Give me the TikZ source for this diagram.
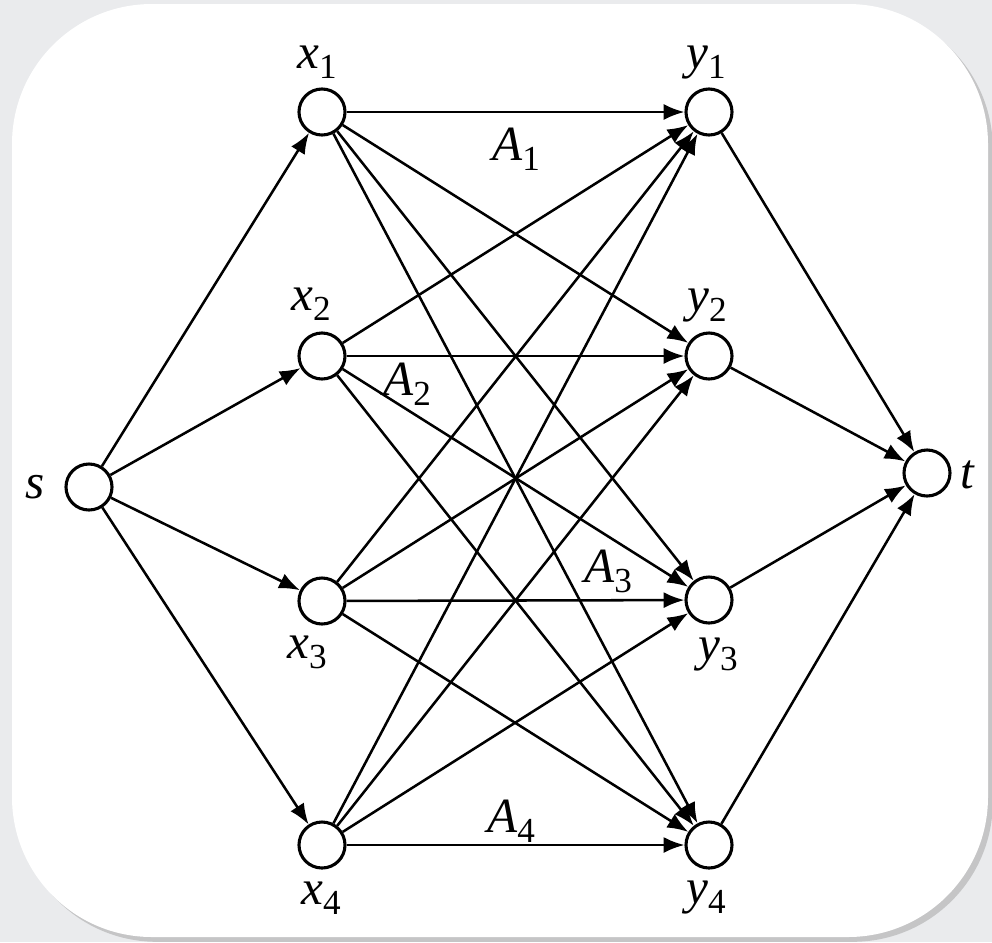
\documentclass[tikz,border=0pt]{standalone}
\usepackage{fontspec}
\setmainfont{Liberation Serif}[ItalicFont={Liberation Serif Italic}]
\usetikzlibrary{arrows.meta, shadows}
\definecolor{pagegray}{RGB}{234,235,237}
\newcommand{\vlab}[2]{\textit{#1}\raisebox{-0.22em}{\fontsize{25}{25}\selectfont #2}}
\tikzstyle{every node}=[font=\fontsize{35}{40}\selectfont]
\tikzstyle{vertex} = [circle, draw=black, line width=2.2pt, fill=white, minimum size=1.15cm, inner sep=0pt]
\tikzstyle{arrow} = [line width=1.8pt, -{Latex[length=0.52cm, width=0.4cm]}]
\tikzstyle{lbl} = [inner sep=0pt, anchor=base]
\tikzstyle{card} = [fill=white, rounded corners=3.5cm, drop shadow={shadow xshift=0.12cm, shadow yshift=-0.12cm, opacity=0.35}]

\begin{document}
\begin{tikzpicture}[x=0.025cm, y=-0.025cm]
            \fill[pagegray] (0,0) rectangle (992,942);
            \useasboundingbox (0,0) rectangle (992,942);
            \path[card] (12,4) rectangle (988,937);

            \node (s) [vertex] at (89,487) {};
            \node (x1) [vertex] at (322,112) {};
            \node (x2) [vertex] at (322,356) {};
            \node (x3) [vertex] at (322,601) {};
            \node (x4) [vertex] at (322,845) {};
            \node (y1) [vertex] at (709,112) {};
            \node (y2) [vertex] at (709,356) {};
            \node (y3) [vertex] at (709,600) {};
            \node (y4) [vertex] at (709,845) {};
            \node (t) [vertex] at (927,473) {};

            \node (ls) [lbl] at (35,498) {\textit{s}};
            \node (lt) [lbl] at (968,488) {\textit{t}};
            \node (lx1) [lbl] at (317,68) {\vlab{x}{1}};
            \node (lx2) [lbl] at (311,310) {\vlab{x}{2}};
            \node (lx3) [lbl] at (307,658) {\vlab{x}{3}};
            \node (lx4) [lbl] at (321,904) {\vlab{x}{4}};
            \node (ly1) [lbl] at (706,68) {\vlab{y}{1}};
            \node (ly2) [lbl] at (707,311) {\vlab{y}{2}};
            \node (ly3) [lbl] at (718,660) {\vlab{y}{3}};
            \node (ly4) [lbl] at (706,903) {\vlab{y}{4}};
            \node (lA1) [lbl] at (516,160) {\vlab{A}{1}};
            \node (lA2) [lbl] at (407,395) {\vlab{A}{2}};
            \node (lA3) [lbl] at (608,582) {\vlab{A}{3}};
            \node (lA4) [lbl] at (511,832) {\vlab{A}{4}};

            \draw [arrow] (s) -- (x1);
            \draw [arrow] (s) -- (x2);
            \draw [arrow] (s) -- (x3);
            \draw [arrow] (s) -- (x4);
            \draw [arrow] (x1) -- (y1);
            \draw [arrow] (x1) -- (y2);
            \draw [arrow] (x1) -- (y3);
            \draw [arrow] (x1) -- (y4);
            \draw [arrow] (x2) -- (y1);
            \draw [arrow] (x2) -- (y2);
            \draw [arrow] (x2) -- (y3);
            \draw [arrow] (x2) -- (y4);
            \draw [arrow] (x3) -- (y1);
            \draw [arrow] (x3) -- (y2);
            \draw [arrow] (x3) -- (y3);
            \draw [arrow] (x3) -- (y4);
            \draw [arrow] (x4) -- (y1);
            \draw [arrow] (x4) -- (y2);
            \draw [arrow] (x4) -- (y3);
            \draw [arrow] (x4) -- (y4);
            \draw [arrow] (y1) -- (t);
            \draw [arrow] (y2) -- (t);
            \draw [arrow] (y3) -- (t);
            \draw [arrow] (y4) -- (t);
          \end{tikzpicture}
\end{document}
